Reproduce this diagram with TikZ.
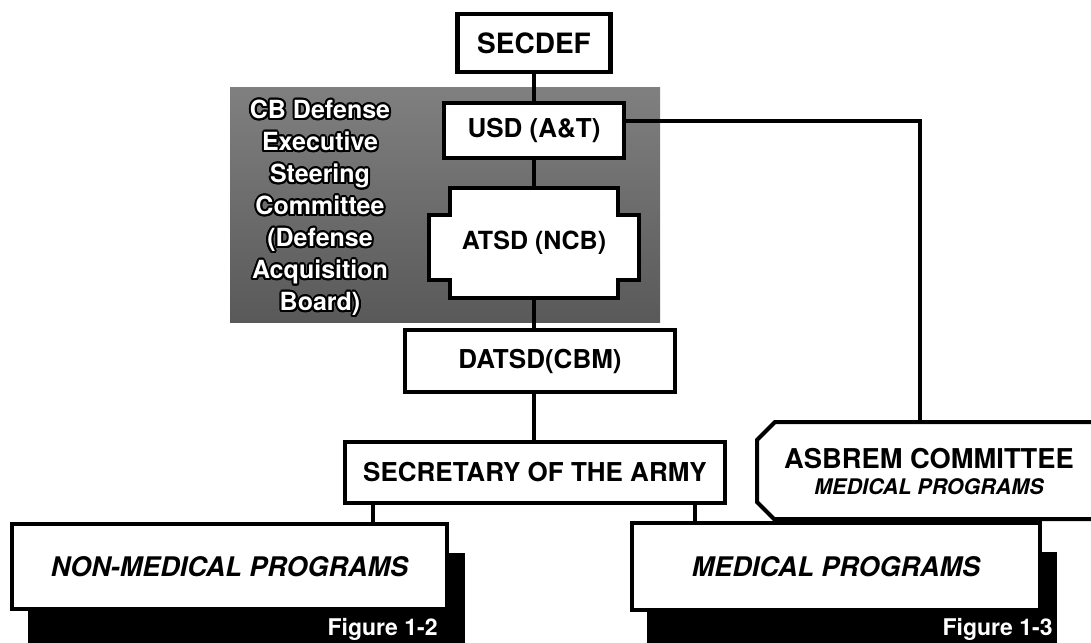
\documentclass[tikz,border=0pt]{standalone}
\usepackage{fontspec}
\setmainfont{TeX Gyre Heros}
\usepackage{contour}
\contourlength{1pt}
\usetikzlibrary{positioning}
\usetikzlibrary{calc}
\usetikzlibrary{backgrounds}
\tikzstyle{link} = [line width=2pt]
\tikzstyle{thinlink} = [line width=1.6pt]
\tikzstyle{shadow} = [fill=black]
\newcommand{\boardline}[1]{\contour{black}{\textcolor{white}{#1}}}

\begin{document}
\begin{tikzpicture}[x=0.5pt,y=-0.5pt,
                      node distance=40pt,
                      box node/.style={draw,line width=2.2pt,fill=white,inner sep=0pt,
                                       font=\bfseries\fontsize{13}{15}\selectfont},
                      program node/.style={box node,font=\bfseries\itshape\fontsize{13.5}{16}\selectfont},
                      figure node/.style={anchor=east,text=white,inner sep=0pt,
                                          font=\bfseries\fontsize{11.5}{13}\selectfont}]

        \useasboundingbox (0,0) rectangle (1091,642);
        \clip (0,0) rectangle (1091,642);

        \node[box node,minimum width=76.5pt,minimum height=29pt,font=\bfseries\fontsize{14}{16}\selectfont] (1) at (534,43) {SECDEF};
        \node[box node,minimum width=90pt,minimum height=27.5pt] (2) [below of=1,node distance=43.75pt] {USD (A\&T)};
        \node[inner sep=0pt,minimum width=105pt,minimum height=55pt,font=\bfseries\fontsize{12.5}{15}\selectfont] (3) [below of=2,node distance=56.25pt] {ATSD (NCB)};
        \node[box node,minimum width=135pt,minimum height=31pt] (4) [below of=3,node distance=59pt,xshift=3pt] {DATSD(CBM)};
        \node[box node,minimum width=190pt,minimum height=30.5pt] (5) [below of=4,node distance=55.75pt,xshift=-2.5pt] {SECRETARY OF THE ARMY};

        \node[align=center,font=\bfseries\fontsize{12.5}{16}\selectfont] (9) at (320,209)
            {\boardline{CB Defense}\\\boardline{Executive}\\\boardline{Steering}\\\boardline{Committee}\\
             \boardline{(Defense}\\\boardline{Acquisition}\\\boardline{Board)}};

        % asbrem box runs off the right edge
        \coordinate (12) at (920,422);
        \draw[line width=2pt,fill=white] (1100,422) -- (775,422) -- (757,440) -- (757,502) -- (774,519) -- (1100,519);
        \node[align=center,font=\bfseries\fontsize{13.65}{13}\selectfont] (8) at (929,472)
            {ASBREM COMMITTEE\\{\itshape\fontsize{10.75}{13}\selectfont MEDICAL PROGRAMS}};

        \node[program node,minimum width=217.5pt,minimum height=42.5pt] (6) at (229.5,566.5) {NON-MEDICAL PROGRAMS};
        \node[program node,minimum width=204pt,minimum height=43.5pt] (7) at (836,566.5) {MEDICAL PROGRAMS};

        \node[figure node] (10) at (438,629) {Figure 1-2};
        \node[figure node] (11) at (1053,629) {Figure 1-3};

        \path[link]
        (1) edge (2)
        (2) edge (3)
        (3.south) edge (3.south |- 4.north)
        (3.south |- 4.south) edge (3.south |- 5.north)
        ([xshift=-81pt]5.south) edge ([xshift=-81pt]5.south |- 6.north)
        ([xshift=80pt]5.south) edge ([xshift=80pt]5.south |- 7.north)
        ;

        \draw[thinlink] ([yshift=4.75pt]2.east) -| (12);

        \begin{scope}[on background layer]
          \shade[top color=black!50,bottom color=black!65] (230,88) rectangle (660,322);
          \draw[line width=2.2pt,fill=white]
            ($(3)+(-84,-55)$) -- ($(3)+(84,-55)$) -- ($(3)+(84,-28)$) -- ($(3)+(105,-28)$)
            -- ($(3)+(105,37)$) -- ($(3)+(84,37)$) -- ($(3)+(84,55)$) -- ($(3)+(-84,55)$)
            -- ($(3)+(-84,37)$) -- ($(3)+(-105,37)$) -- ($(3)+(-105,-28)$) -- ($(3)+(-84,-28)$) -- cycle;
          \fill[shadow] (28,553) rectangle (465,650);
          \fill[shadow] (647,552) rectangle (1057,650);
        \end{scope}
    \end{tikzpicture}
\end{document}
